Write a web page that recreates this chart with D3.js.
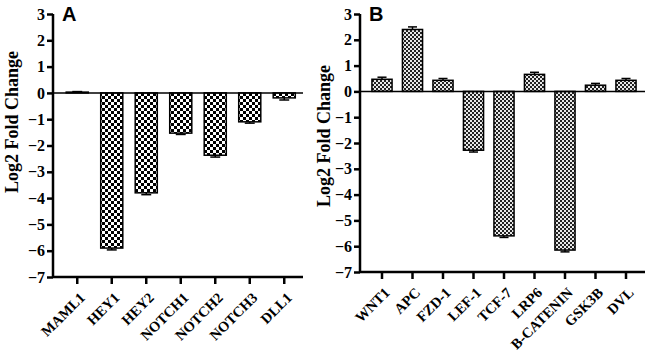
<!DOCTYPE html>
<html>
<head>
<meta charset="utf-8">
<script src="https://cdn.jsdelivr.net/npm/d3@7"></script>
<style>
  body { margin: 0; background: #fff; }
  svg { display: block; }
  .tick-lbl { font-family: "Liberation Serif", "Times New Roman", serif; font-weight: bold; }
</style>
</head>
<body>
<div class="chart"></div>
<script>
// Panel A - Notch genes
const genesA = ["MAML1", "HEY1", "HEY2", "NOTCH1", "NOTCH2", "NOTCH3", "DLL1"];
const valuesA = [0.03, -5.9, -3.8, -1.53, -2.37, -1.1, -0.19];
const errA = [0.02, 0.07, 0.07, 0.05, 0.07, 0.05, 0.08];

// Panel B - Wnt genes
const genesB = ["WNT1", "APC", "FZD-1", "LEF-1", "TCF-7", "LRP6", "B-CATENIN", "GSK3B", "DVL"];
const valuesB = [0.47, 2.4, 0.43, -2.28, -5.6, 0.66, -6.15, 0.24, 0.43];
const errB = [0.08, 0.1, 0.07, 0.07, 0.06, 0.08, 0.07, 0.07, 0.07];

const yTicks = [3, 2, 1, 0, -1, -2, -3, -4, -5, -6, -7];
const yDomain = [-7, 3];

const svg = d3.select("div.chart").append("svg")
  .attr("width", 652)
  .attr("height", 360);

// fill patterns (coarse checker for A, fine for B)
const defs = svg.append("defs");
const patA = defs.append("pattern")
  .attr("id", "checkA")
  .attr("patternUnits", "userSpaceOnUse")
  .attr("width", 6).attr("height", 6);
patA.append("rect").attr("width", 6).attr("height", 6).attr("fill", "#fff");
patA.append("rect").attr("width", 3).attr("height", 3).attr("fill", "#000");
patA.append("rect").attr("x", 3).attr("y", 3).attr("width", 3).attr("height", 3).attr("fill", "#000");

const patB = defs.append("pattern")
  .attr("id", "checkB")
  .attr("patternUnits", "userSpaceOnUse")
  .attr("width", 4).attr("height", 4);
patB.append("rect").attr("width", 4).attr("height", 4).attr("fill", "#e8e8e8");
patB.append("rect").attr("width", 2).attr("height", 2).attr("fill", "#222");
patB.append("rect").attr("x", 2).attr("y", 2).attr("width", 2).attr("height", 2).attr("fill", "#222");

function drawPanel(opt) {
  const g = svg.append("g");

  const y = d3.scaleLinear().domain(yDomain).range([opt.bottom, opt.top]);
  const x = d3.scaleBand()
    .domain(opt.genes)
    .range([opt.bandLeft, opt.bandRight])
    .paddingInner(opt.pad)
    .paddingOuter(opt.pad / 2);

  // y axis
  const yAxis = g.append("g")
    .attr("transform", `translate(${opt.left},0)`)
    .attr("font-family", null)
    .call(d3.axisLeft(y).tickValues(yTicks).tickSize(6).tickPadding(2).tickFormat(d3.format("d")));
  yAxis.select(".domain").attr("stroke-width", 2.5).attr("d", `M0,${opt.bottom}V${opt.top}`);
  yAxis.selectAll(".tick line").attr("stroke-width", 2.5);
  yAxis.selectAll(".tick text")
    .style("font-family", "'Liberation Serif', 'Times New Roman', serif")
    .style("font-weight", "bold")
    .style("font-size", "16px")
    .attr("fill", "#000");

  // x axis
  const xAxis = g.append("g")
    .attr("transform", `translate(0,${opt.bottom})`)
    .call(d3.axisBottom(x).tickSize(7).tickFormat(""));
  xAxis.select(".domain").attr("stroke-width", 2.5).attr("d", `M${opt.left},0H${opt.right}`);
  xAxis.selectAll(".tick line").attr("stroke-width", 2.5);

  xAxis.selectAll(".tick").append("text")
    .attr("class", "tick-lbl")
    .attr("transform", "translate(5,18) rotate(-45)")
    .attr("text-anchor", "end")
    .attr("dy", "0.35em")
    .style("font-size", "14.5px")
    .attr("fill", "#000")
    .text(d => d);

  // bars
  const data = opt.genes.map((d, i) => ({gene: d, v: opt.values[i], e: opt.err[i]}));
  g.selectAll("rect.bar")
    .data(data)
    .enter()
    .append("rect")
    .attr("class", "bar")
    .attr("x", d => x(d.gene))
    .attr("y", d => y(Math.max(0, d.v)))
    .attr("width", x.bandwidth())
    .attr("height", d => Math.abs(y(d.v) - y(0)))
    .attr("fill", opt.fill)
    .attr("stroke", "#000")
    .attr("stroke-width", 1.5);

  // error bars (outward)
  const capW = x.bandwidth() * 0.45;
  data.forEach(d => {
    const cx = x(d.gene) + x.bandwidth() / 2;
    const end = d.v >= 0 ? d.v + d.e : d.v - d.e;
    g.append("line")
      .attr("x1", cx).attr("x2", cx)
      .attr("y1", y(d.v)).attr("y2", y(end))
      .attr("stroke", "#000").attr("stroke-width", 1.5);
    g.append("line")
      .attr("x1", cx - capW / 2).attr("x2", cx + capW / 2)
      .attr("y1", y(end)).attr("y2", y(end))
      .attr("stroke", "#000").attr("stroke-width", 1.5);
  });

  // zero line
  g.append("line")
    .attr("x1", opt.left).attr("x2", opt.right)
    .attr("y1", y(0)).attr("y2", y(0))
    .attr("stroke", "#000")
    .attr("stroke-width", 1.5);

  // y label
  g.append("text")
    .attr("class", "tick-lbl")
    .attr("transform", `translate(${opt.labelX},${opt.labelY}) rotate(-90)`)
    .attr("text-anchor", "middle")
    .style("font-size", "18px")
    .text("Log2 Fold Change");

  // panel letter
  g.append("text")
    .attr("x", opt.left + 9)
    .attr("y", 21)
    .style("font-family", "'Liberation Sans', Arial, sans-serif")
    .style("font-weight", "bold")
    .style("font-size", "20px")
    .text(opt.letter);
}

drawPanel({
  genes: genesA, values: valuesA, err: errA,
  left: 53, right: 303, bandLeft: 60, bandRight: 301.5,
  top: 14, bottom: 277, pad: 0.36,
  fill: "url(#checkA)", letter: "A", labelX: 18, labelY: 122
});

drawPanel({
  genes: genesB, values: valuesB, err: errB,
  left: 360, right: 645, bandLeft: 366.75, bandRight: 641.25,
  top: 14, bottom: 272, pad: 0.34,
  fill: "url(#checkB)", letter: "B", labelX: 330, labelY: 136
});
</script>
</body>
</html>
